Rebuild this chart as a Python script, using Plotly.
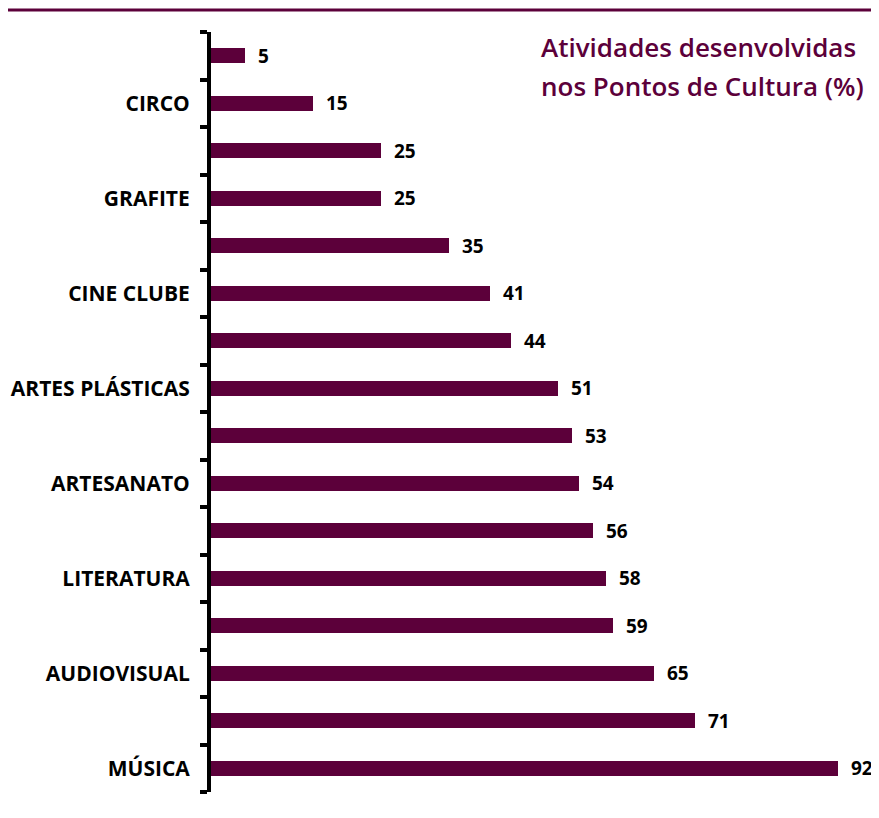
import plotly.graph_objects as go

categories = ["", "CIRCO", "", "GRAFITE", "", "CINE CLUBE", "", "ARTES PLÁSTICAS",
              "", "ARTESANATO", "", "LITERATURA", "", "AUDIOVISUAL", "", "MÚSICA"]
values = [5, 15, 25, 25, 35, 41, 44, 51, 53, 54, 56, 58, 59, 65, 71, 92]
title_lines = ["Atividades desenvolvidas", "nos Pontos de Cultura (%)"]

positions = list(range(len(values)))
boundaries = [p - 0.5 for p in positions] + [positions[-1] + 0.5]
labelled = [p for p, c in zip(positions, categories) if c]
labels = [c for c in categories if c]

PURPLE = "#5c003a"
FONT = "Open Sans"

# page body has an 8px margin; figure coords = page coords - 8
OFF = 8
W, H = 871, 802
L, T = 211 - OFF, 32 - OFF
B = H - (792 - OFF)
R = 14
pw, ph = W - L - R, H - T - B

def px_x(x):
    return (x - OFF - L) / pw

def px_y(y):
    return 1 - (y - OFF - T) / ph

fig = go.Figure()
fig.add_trace(go.Bar(
    x=values, y=positions, orientation="h",
    width=0.32, marker=dict(color=PURPLE, line=dict(width=0)),
    hoverinfo="x",
))

for p, v in zip(positions, values):
    fig.add_annotation(
        x=v, y=p, xref="x", yref="y", text=str(v), showarrow=False,
        xanchor="left", yanchor="middle", xshift=11,
        font=dict(family=FONT, size=19, color="black", weight="bold"),
    )

for i, line in enumerate(title_lines):
    fig.add_annotation(
        x=px_x(539), y=px_y(47 + 39 * i), xref="paper", yref="paper",
        text=line, showarrow=False, xanchor="left", yanchor="middle",
        font=dict(family=FONT, size=26, color=PURPLE, weight=600),
    )

fig.add_shape(type="line", xref="paper", yref="paper",
              x0=px_x(8), x1=px_x(872), y0=px_y(10), y1=px_y(10),
              line=dict(color=PURPLE, width=3))

fig.update_layout(
    width=W, height=H,
    margin=dict(l=L, r=R, t=T, b=B, pad=0, autoexpand=False),
    paper_bgcolor="white", plot_bgcolor="white",
    showlegend=False,
    bargap=0,
    xaxis=dict(visible=False, range=[0, 96], fixedrange=True, automargin=False),
    yaxis=dict(
        range=[boundaries[-1], boundaries[0]], automargin=False,
        tickmode="array", tickvals=labelled, ticktext=labels,
        ticks="", showgrid=False, zeroline=False,
        showline=True, linecolor="black", linewidth=4,
        ticklabelstandoff=13,
        tickfont=dict(family=FONT, size=21, color="black", weight="bold"),
        minor=dict(tickmode="array", tickvals=boundaries, ticks="outside",
                   ticklen=7, tickwidth=4, tickcolor="black", showgrid=False),
    ),
)

fig.write_html("out.html")
